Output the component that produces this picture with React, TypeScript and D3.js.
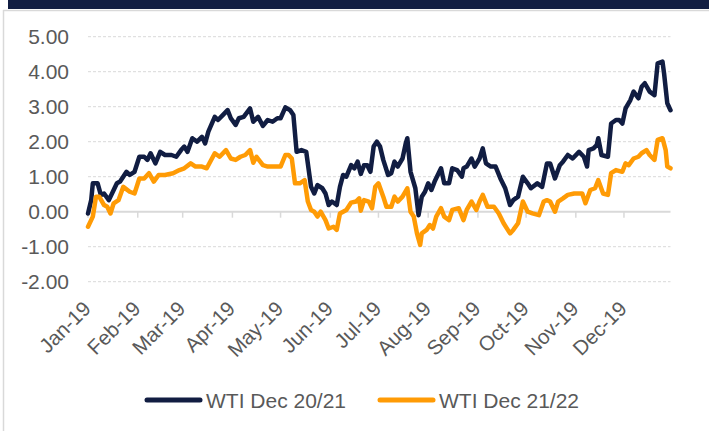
import React from "react";
import * as d3 from "d3";

const seriesNames = ["WTI Dec 20/21", "WTI Dec 21/22"];
const yTicks = [-2, -1, 0, 1, 2, 3, 4, 5];
const xTickLabels = ["Jan-19", "Feb-19", "Mar-19", "Apr-19", "May-19", "Jun-19", "Jul-19", "Aug-19", "Sep-19", "Oct-19", "Nov-19", "Dec-19"];

const wti2021: [string, number][] = [
  ["2019-01-01", -0.05], ["2019-01-03", 0.33], ["2019-01-04", 0.81], ["2019-01-07", 0.81], ["2019-01-09", 0.48],
  ["2019-01-11", 0.52], ["2019-01-14", 0.33], ["2019-01-17", 0.62], ["2019-01-19", 0.81], ["2019-01-21", 0.86],
  ["2019-01-25", 1.14], ["2019-01-27", 1.05], ["2019-01-30", 1.14], ["2019-02-02", 1.57], ["2019-02-05", 1.57],
  ["2019-02-07", 1.48], ["2019-02-09", 1.67], ["2019-02-12", 1.38], ["2019-02-15", 1.71], ["2019-02-18", 1.62],
  ["2019-02-22", 1.62], ["2019-02-25", 1.57], ["2019-02-28", 1.76], ["2019-03-02", 1.86], ["2019-03-04", 1.71],
  ["2019-03-07", 2.1], ["2019-03-10", 2.0], ["2019-03-13", 2.14], ["2019-03-15", 1.95], ["2019-03-17", 2.29],
  ["2019-03-21", 2.71], ["2019-03-23", 2.62], ["2019-03-26", 2.76], ["2019-03-29", 2.9], ["2019-03-31", 2.67],
  ["2019-04-03", 2.48], ["2019-04-05", 2.67], ["2019-04-08", 2.71], ["2019-04-12", 2.95], ["2019-04-14", 2.57],
  ["2019-04-17", 2.71], ["2019-04-20", 2.45], ["2019-04-23", 2.62], ["2019-04-26", 2.57], ["2019-04-29", 2.67],
  ["2019-05-01", 2.67], ["2019-05-04", 2.98], ["2019-05-07", 2.9], ["2019-05-09", 2.76], ["2019-05-11", 1.71],
  ["2019-05-14", 1.76], ["2019-05-17", 1.71], ["2019-05-20", 0.71], ["2019-05-22", 0.52], ["2019-05-24", 0.76],
  ["2019-05-27", 0.67], ["2019-05-29", 0.52], ["2019-05-31", 0.19], ["2019-06-02", 0.29], ["2019-06-05", 0.19],
  ["2019-06-07", 0.71], ["2019-06-09", 1.05], ["2019-06-11", 1.0], ["2019-06-14", 1.33], ["2019-06-16", 1.24],
  ["2019-06-18", 1.43], ["2019-06-20", 1.08], ["2019-06-22", 1.33], ["2019-06-24", 1.33], ["2019-06-26", 1.14],
  ["2019-06-28", 1.86], ["2019-06-30", 2.0], ["2019-07-02", 1.86], ["2019-07-04", 1.48], ["2019-07-07", 1.05],
  ["2019-07-09", 1.1], ["2019-07-11", 1.43], ["2019-07-13", 1.29], ["2019-07-16", 1.52], ["2019-07-18", 1.95],
  ["2019-07-19", 2.1], ["2019-07-21", 1.14], ["2019-07-24", 0.67], ["2019-07-26", -0.1], ["2019-07-28", 0.43],
  ["2019-07-30", 0.57], ["2019-08-01", 0.81], ["2019-08-03", 0.62], ["2019-08-05", 0.86], ["2019-08-09", 1.24],
  ["2019-08-11", 0.81], ["2019-08-14", 0.81], ["2019-08-16", 1.24], ["2019-08-19", 1.19], ["2019-08-22", 1.0],
  ["2019-08-23", 1.24], ["2019-08-25", 1.29], ["2019-08-28", 1.52], ["2019-08-30", 1.29], ["2019-09-02", 1.52],
  ["2019-09-04", 1.81], ["2019-09-06", 1.38], ["2019-09-09", 1.29], ["2019-09-12", 1.29], ["2019-09-15", 0.95],
  ["2019-09-18", 0.67], ["2019-09-21", 0.19], ["2019-09-23", 0.33], ["2019-09-26", 0.43], ["2019-09-29", 1.0],
  ["2019-10-02", 0.81], ["2019-10-04", 0.67], ["2019-10-08", 0.81], ["2019-10-11", 0.71], ["2019-10-14", 1.38],
  ["2019-10-16", 1.38], ["2019-10-19", 0.95], ["2019-10-22", 1.33], ["2019-10-24", 1.43], ["2019-10-27", 1.62],
  ["2019-10-30", 1.52], ["2019-11-03", 1.71], ["2019-11-06", 1.57], ["2019-11-08", 1.29], ["2019-11-09", 1.76],
  ["2019-11-12", 1.81], ["2019-11-14", 1.9], ["2019-11-15", 2.1], ["2019-11-17", 1.62], ["2019-11-21", 1.57],
  ["2019-11-23", 2.52], ["2019-11-26", 2.62], ["2019-11-28", 2.62], ["2019-11-30", 2.52], ["2019-12-02", 2.95],
  ["2019-12-05", 3.19], ["2019-12-07", 3.43], ["2019-12-10", 3.24], ["2019-12-12", 3.57], ["2019-12-14", 3.67],
  ["2019-12-17", 3.43], ["2019-12-20", 3.33], ["2019-12-22", 4.24], ["2019-12-25", 4.29], ["2019-12-26", 3.95],
  ["2019-12-28", 3.1], ["2019-12-30", 2.9],
];

const wti2122: [string, number][] = [
  ["2019-01-01", -0.43], ["2019-01-04", -0.14], ["2019-01-06", 0.43], ["2019-01-08", 0.43], ["2019-01-11", 0.19],
  ["2019-01-13", 0.14], ["2019-01-15", -0.05], ["2019-01-17", 0.24], ["2019-01-20", 0.33], ["2019-01-23", 0.71],
  ["2019-01-27", 0.57], ["2019-01-30", 0.52], ["2019-02-02", 0.95], ["2019-02-05", 0.95], ["2019-02-08", 1.1],
  ["2019-02-11", 0.86], ["2019-02-14", 1.05], ["2019-02-18", 1.05], ["2019-02-23", 1.1], ["2019-02-27", 1.19],
  ["2019-03-02", 1.24], ["2019-03-06", 1.38], ["2019-03-09", 1.29], ["2019-03-13", 1.29], ["2019-03-16", 1.24],
  ["2019-03-21", 1.67], ["2019-03-24", 1.57], ["2019-03-28", 1.76], ["2019-03-31", 1.52], ["2019-04-03", 1.48],
  ["2019-04-06", 1.57], ["2019-04-09", 1.62], ["2019-04-12", 1.76], ["2019-04-14", 1.4], ["2019-04-16", 1.57],
  ["2019-04-20", 1.33], ["2019-04-23", 1.29], ["2019-04-27", 1.29], ["2019-05-01", 1.29], ["2019-05-04", 1.62],
  ["2019-05-06", 1.62], ["2019-05-08", 1.52], ["2019-05-10", 0.81], ["2019-05-13", 0.81], ["2019-05-16", 0.9],
  ["2019-05-18", 0.29], ["2019-05-20", 0.05], ["2019-05-22", 0.0], ["2019-05-24", -0.14], ["2019-05-26", 0.0],
  ["2019-05-29", -0.24], ["2019-05-31", -0.48], ["2019-06-03", -0.43], ["2019-06-05", -0.52], ["2019-06-07", -0.05],
  ["2019-06-09", 0.0], ["2019-06-11", 0.05], ["2019-06-14", 0.26], ["2019-06-17", 0.29], ["2019-06-19", 0.38],
  ["2019-06-20", 0.03], ["2019-06-22", 0.33], ["2019-06-25", 0.29], ["2019-06-27", 0.1], ["2019-06-29", 0.71],
  ["2019-07-01", 0.81], ["2019-07-04", 0.43], ["2019-07-06", 0.14], ["2019-07-09", 0.14], ["2019-07-11", 0.43],
  ["2019-07-13", 0.29], ["2019-07-16", 0.43], ["2019-07-19", 0.67], ["2019-07-21", 0.0], ["2019-07-23", -0.14],
  ["2019-07-25", -0.62], ["2019-07-27", -0.95], ["2019-07-28", -0.62], ["2019-07-31", -0.52], ["2019-08-02", -0.38],
  ["2019-08-04", -0.48], ["2019-08-06", -0.14], ["2019-08-09", 0.1], ["2019-08-11", -0.14], ["2019-08-14", -0.24],
  ["2019-08-16", 0.05], ["2019-08-20", 0.1], ["2019-08-23", -0.24], ["2019-08-25", 0.05], ["2019-08-28", 0.29],
  ["2019-08-31", 0.05], ["2019-09-02", 0.29], ["2019-09-04", 0.48], ["2019-09-07", 0.14], ["2019-09-11", 0.14],
  ["2019-09-14", -0.05], ["2019-09-17", -0.33], ["2019-09-21", -0.62], ["2019-09-23", -0.52], ["2019-09-26", -0.33],
  ["2019-09-29", 0.29], ["2019-10-02", 0.0], ["2019-10-05", -0.05], ["2019-10-09", -0.1], ["2019-10-12", 0.29],
  ["2019-10-14", 0.33], ["2019-10-16", 0.29], ["2019-10-19", 0.0], ["2019-10-21", 0.29], ["2019-10-24", 0.38],
  ["2019-10-27", 0.48], ["2019-10-31", 0.52], ["2019-11-05", 0.52], ["2019-11-07", 0.24], ["2019-11-10", 0.62],
  ["2019-11-13", 0.67], ["2019-11-15", 0.9], ["2019-11-18", 0.52], ["2019-11-21", 0.48], ["2019-11-23", 1.1],
  ["2019-11-26", 1.19], ["2019-11-30", 1.14], ["2019-12-02", 1.38], ["2019-12-04", 1.33], ["2019-12-07", 1.52],
  ["2019-12-10", 1.57], ["2019-12-12", 1.67], ["2019-12-15", 1.76], ["2019-12-17", 1.62], ["2019-12-20", 1.48],
  ["2019-12-22", 2.05], ["2019-12-25", 2.1], ["2019-12-27", 1.76], ["2019-12-28", 1.29], ["2019-12-30", 1.24],
];

const NAVY = "#111d42";
const ORANGE = "#ff9b05";
const TEXT = "#595959";
const GRID = "#d9d9d9";
const FONT = "'Liberation Sans', Arial, sans-serif";

export default function App() {
  const W = 709;
  const H = 431;
  const parse = d3.timeParse("%Y-%m-%d");
  const x = d3
    .scaleTime()
    .domain([parse("2019-01-01") as Date, parse("2019-12-30") as Date])
    .range([88, 670.5]);
  const y = d3.scaleLinear().domain([-2, 5]).range([281.7, 36.7]);
  const line = d3
    .line<[string, number]>()
    .x((d) => x(parse(d[0]) as Date))
    .y((d) => y(d[1]));
  const months = d3.timeMonth.range(parse("2019-01-01") as Date, parse("2019-12-31") as Date);
  const series = [
    { name: seriesNames[0], data: wti2021, color: NAVY },
    { name: seriesNames[1], data: wti2122, color: ORANGE },
  ];
  const legendX = [147, 380];

  return (
    <svg
      width={W}
      height={H}
      style={{ position: "absolute", left: 0, top: 0, background: "#fff" }}
      fontFamily={FONT}
    >
      <rect x={0} y={0} width={W} height={H} fill="#fff" />
      <rect x={8} y={0} width={W - 8} height={9} fill={NAVY} />
      <line x1={3.5} x2={3.5} y1={10} y2={H} stroke={GRID} strokeWidth={1.5} />
      <line x1={3} x2={W} y1={10.5} y2={10.5} stroke={GRID} strokeWidth={1.5} />

      {yTicks.map((t) => (
        <g key={t}>
          {t !== 0 && (
            <line
              x1={x.range()[0]}
              x2={x.range()[1]}
              y1={y(t)}
              y2={y(t)}
              stroke={GRID}
              strokeWidth={1}
              strokeDasharray="3,2"
            />
          )}
          <text
            x={69}
            y={y(t)}
            textAnchor="end"
            dominantBaseline="central"
            fontSize={21}
            fill={TEXT}
          >
            {t.toFixed(2)}
          </text>
        </g>
      ))}

      <line x1={x.range()[0]} x2={x.range()[1]} y1={y(0)} y2={y(0)} stroke={GRID} strokeWidth={2} />
      {months.map((m, i) => (
        <g key={i}>
          <line x1={x(m)} x2={x(m)} y1={y(0)} y2={y(0) + 6} stroke={GRID} strokeWidth={1.5} />
          <text
            transform={`translate(${x(m) + 4},${310}) rotate(-45)`}
            textAnchor="end"
            fontSize={20.5}
            fill={TEXT}
          >
            {xTickLabels[i]}
          </text>
        </g>
      ))}

      {series.map((s) => (
        <path
          key={s.name}
          d={line(s.data) || ""}
          fill="none"
          stroke={s.color}
          strokeWidth={4.5}
          strokeLinejoin="round"
          strokeLinecap="round"
        />
      ))}

      {series.map((s, i) => (
        <g key={s.name}>
          <line
            x1={legendX[i]}
            x2={legendX[i] + 53}
            y1={400}
            y2={400}
            stroke={s.color}
            strokeWidth={5}
            strokeLinecap="round"
          />
          <text x={legendX[i] + 59} y={400} dominantBaseline="central" fontSize={21} fill={TEXT}>
            {s.name}
          </text>
        </g>
      ))}
    </svg>
  );
}
